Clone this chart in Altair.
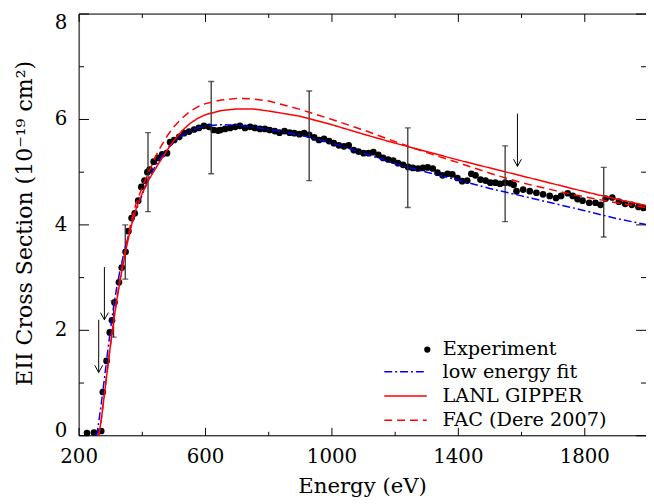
import altair as alt
import pandas as pd

# ---------------- data ----------------
EXP_NAME = "Experiment"
MODELS = ["low energy fit", "LANL GIPPER", "FAC (Dere 2007)"]

exp_E = [225, 247, 270, 275, 287, 297, 304, 312, 326, 335, 347, 356, 366, 376, 387,
         397, 407, 416, 423, 436, 449, 463, 478, 488, 501, 517, 532, 548, 564, 579,
         595, 611, 626, 640, 647, 662, 678, 694, 709, 725, 741, 756, 772, 788, 803,
         819, 834, 850, 866, 881, 897, 912, 928, 944, 959, 975, 991, 1006, 1022, 1038,
         1053, 1069, 1084, 1100, 1116, 1131, 1147, 1162, 1178, 1194, 1209, 1225, 1241,
         1256, 1272, 1288, 1303, 1319, 1334, 1350, 1366, 1381, 1397, 1412, 1428, 1441,
         1454, 1470, 1486, 1501, 1517, 1532, 1548, 1564, 1575, 1584, 1605, 1626, 1647,
         1668, 1689, 1709, 1725, 1746, 1762, 1777, 1793, 1814, 1834, 1850, 1866, 1887,
         1908, 1928, 1949, 1970, 1986]
exp_val = [0.05, 0.06, 0.09, 0.83, 1.42, 1.96, 2.19, 2.53, 2.91, 3.19, 3.49, 3.88, 4.13, 4.22, 4.46,
           4.72, 4.84, 5.00, 5.05, 5.20, 5.27, 5.34, 5.36, 5.57, 5.61, 5.67, 5.74, 5.77, 5.81, 5.84,
           5.88, 5.86, 5.80, 5.79, 5.80, 5.82, 5.84, 5.86, 5.88, 5.84, 5.86, 5.84, 5.82, 5.82, 5.80,
           5.78, 5.75, 5.78, 5.75, 5.74, 5.72, 5.74, 5.71, 5.66, 5.61, 5.63, 5.59, 5.55, 5.51, 5.49,
           5.51, 5.42, 5.39, 5.36, 5.36, 5.38, 5.33, 5.27, 5.24, 5.22, 5.17, 5.14, 5.10,
           5.08, 5.07, 5.08, 5.09, 5.07, 4.99, 4.94, 4.97, 4.96, 4.89, 4.83, 4.84, 4.97,
           4.94, 4.86, 4.84, 4.80, 4.80, 4.78, 4.80, 4.79, 4.76, 4.64, 4.67, 4.64, 4.61,
           4.58, 4.55, 4.51, 4.55, 4.60, 4.55, 4.49, 4.46, 4.42, 4.42, 4.38, 4.50, 4.52,
           4.44, 4.40, 4.38, 4.34, 4.32]

fit_E = [256, 270, 280, 290, 300, 310, 320, 330, 345, 360, 380, 400, 420, 440, 460, 480,
         500, 525, 550, 575, 600, 650, 700, 750, 800, 850, 900, 950, 1000, 1100, 1200,
         1300, 1400, 1500, 1600, 1700, 1800, 1900, 2000]
fit_val = [0.0, 0.6, 1.08, 1.58, 2.05, 2.48, 2.85, 3.15, 3.55, 3.9, 4.27, 4.58, 4.87, 5.1, 5.3, 5.45,
           5.57, 5.69, 5.78, 5.84, 5.88, 5.9, 5.89, 5.86, 5.81, 5.76, 5.7, 5.63, 5.55, 5.36, 5.16,
           5.0, 4.85, 4.69, 4.55, 4.41, 4.27, 4.12, 4.0]

gip_E = [262, 270, 280, 290, 300, 310, 320, 335, 350, 365, 380, 400, 420, 450, 480, 500,
         525, 550, 575, 600, 650, 700, 750, 800, 900, 1000, 1100, 1200, 1300, 1400, 1500,
         1600, 1700, 1800, 1900, 2000]
gip_val = [0.0, 0.3, 0.78, 1.28, 1.75, 2.2, 2.6, 3.12, 3.58, 3.98, 4.3, 4.6, 4.85, 5.15, 5.43, 5.6,
           5.78, 5.92, 6.02, 6.09, 6.17, 6.2, 6.2, 6.16, 6.06, 5.9, 5.72, 5.55, 5.39, 5.23, 5.08,
           4.93, 4.78, 4.63, 4.49, 4.36]

fac_E = [262, 270, 280, 290, 300, 310, 320, 335, 350, 365, 380, 400, 420, 450, 480, 500,
         525, 550, 575, 600, 650, 700, 750, 800, 900, 1000, 1100, 1200, 1300, 1400, 1500,
         1600, 1700, 1800, 1900, 2000]
fac_val = [0.0, 0.3, 0.78, 1.28, 1.76, 2.22, 2.63, 3.17, 3.65, 4.07, 4.4, 4.72, 5.0, 5.4, 5.7, 5.86,
           6.02, 6.15, 6.24, 6.3, 6.37, 6.4, 6.39, 6.35, 6.19, 6.0, 5.8, 5.58, 5.37, 5.18, 4.98,
           4.8, 4.66, 4.53, 4.42, 4.32]

err_E = [309, 346, 418, 618, 928, 1240, 1548, 1860]
err_lo = [1.87, 2.97, 4.25, 4.97, 4.84, 4.33, 4.06, 3.77]
err_hi = [2.56, 4.00, 5.75, 6.72, 6.54, 5.84, 5.50, 5.09]

arrow_E = [280, 262, 1587]
arrow_top = [3.2, 2.2, 6.11]
arrow_tip = [2.2, 1.2, 5.11]

x_major = [200, 600, 1000, 1400, 1800]
x_major_labels = ["200", "600", "1000", "1400", "1800"]
x_minor = [400, 800, 1200, 1600]
y_major = [0, 2, 4, 6, 8]
y_major_labels = ["0", "2", "4", "6", "8"]
y_minor = [1, 3, 5, 7]
x_title = "Energy (eV)"
y_title = "EII Cross Section (10\u207b\u00b9\u2079 cm\u00b2)"

# ---------------- tables ----------------
df_exp = pd.DataFrame({"E": exp_E, "val": exp_val, "series": EXP_NAME})
df_mod = pd.concat([
    pd.DataFrame({"E": fit_E, "val": fit_val, "series": MODELS[0]}),
    pd.DataFrame({"E": gip_E, "val": gip_val, "series": MODELS[1]}),
    pd.DataFrame({"E": fac_E, "val": fac_val, "series": MODELS[2]}),
], ignore_index=True)
df_err = pd.DataFrame({"E": err_E, "lo": err_lo, "hi": err_hi})
df_arr = pd.DataFrame({"E": arrow_E, "top": arrow_top, "tip": arrow_tip})
df_xlab = pd.DataFrame({"E": x_major, "label": x_major_labels})
df_ylab = pd.DataFrame({"val": y_major, "label": y_major_labels})
df_one = pd.DataFrame({"xt": [x_title], "yt": [y_title]})

W, H = 574, 427
FONT = "DejaVu Serif"
XMAX = 200 + W / 0.32
xs = alt.Scale(domain=[200, XMAX], nice=False, zero=False)
ys = alt.Scale(domain=[0, 8], nice=False, zero=False)

X = lambda f="E": alt.X(f"{f}:Q", scale=xs, axis=None)
Y = lambda f="val": alt.Y(f"{f}:Q", scale=ys, axis=None)

# ---------------- frame and inward ticks ----------------
frame = [
    alt.Chart(df_one).mark_rule(color="black", strokeWidth=1).encode(
        x=alt.value(0), x2=alt.value(W + 2), y=alt.value(H)),
    alt.Chart(df_one).mark_rule(color="black", strokeWidth=1).encode(
        x=alt.value(0), x2=alt.value(W + 2), y=alt.value(0)),
    alt.Chart(df_one).mark_rule(color="black", strokeWidth=1).encode(
        x=alt.value(0), y=alt.value(0), y2=alt.value(H)),
]


def xticks(values, top, length):
    df = pd.DataFrame({"E": values})
    y0, y1 = (0, length) if top else (H - length, H)
    return alt.Chart(df).mark_rule(color="black", strokeWidth=1).encode(
        x=X(), y=alt.value(y0), y2=alt.value(y1))


def yticks(values, right, length):
    df = pd.DataFrame({"val": values})
    x0, x1 = (W - length, W) if right else (0, length)
    return alt.Chart(df).mark_rule(color="black", strokeWidth=1).encode(
        y=Y(), x=alt.value(x0), x2=alt.value(x1))


ticks = [xticks(x_major, False, 8), xticks(x_minor, False, 4),
         xticks(x_major, True, 8), xticks(x_minor, True, 4),
         yticks(y_major, False, 10), yticks(y_minor, False, 5),
         yticks(y_major, True, 10), yticks(y_minor, True, 5)]

# ---------------- tick labels and titles (text) ----------------
xlab = alt.Chart(df_xlab).mark_text(font=FONT, fontSize=20, color="black",
                                    baseline="top", align="center").encode(
    x=X(), y=alt.value(H + 12), text="label:N")


def ylab_layer(filt, dy):
    return alt.Chart(df_ylab).transform_filter(filt).mark_text(
        font=FONT, fontSize=20, color="black", baseline="middle", align="right", dy=dy
    ).encode(y=Y(), x=alt.value(-12), text="label:N")


ylabs = [ylab_layer("datum.val > 0 && datum.val < 8", 0),
         ylab_layer("datum.val == 8", 9),
         ylab_layer("datum.val == 0", -5)]

xtitle = alt.Chart(df_one).mark_text(font=FONT, fontSize=21.5, fontWeight="normal",
                                     color="black", baseline="alphabetic",
                                     align="center").encode(
    x=alt.value(W / 2), y=alt.value(H + 58), text="xt:N")
ytitle = alt.Chart(df_one).mark_text(font=FONT, fontSize=22.3, fontWeight="normal",
                                     color="black", baseline="alphabetic", align="center",
                                     angle=270).encode(
    x=alt.value(-48), y=alt.value(212), text="yt:N")

# ---------------- data marks ----------------
pts = alt.Chart(df_exp).mark_point(filled=True, size=46, color="black", opacity=1,
                                   strokeWidth=0, clip=True).encode(
    x=X(), y=Y(),
    shape=alt.Shape("series:N", scale=alt.Scale(domain=[EXP_NAME], range=["circle"]),
                    legend=alt.Legend(orient="none", legendX=342.8, legendY=329.7, title=None,
                                      symbolSize=40, clipHeight=20, padding=0,
                                      symbolFillColor="black", symbolStrokeColor="black",
                                      symbolStrokeWidth=0,
                                      labelFont=FONT, labelFontSize=19.5, labelColor="black",
                                      labelOffset=6, labelLimit=400)),
)

err = alt.Chart(df_err).mark_rule(color="#333333", strokeWidth=1.3, clip=True).encode(
    x=X(), y=Y("lo"), y2="hi:Q")
cap_hi = alt.Chart(df_err).mark_tick(color="#222222", orient="horizontal", size=6,
                                     thickness=1.3, clip=True).encode(x=X(), y=Y("hi"))
cap_lo = alt.Chart(df_err).mark_tick(color="#222222", orient="horizontal", size=6,
                                     thickness=1.3, clip=True).encode(x=X(), y=Y("lo"))

model_legend = alt.Legend(orient="none", legendX=308, legendY=352.3, title=None,
                          symbolSize=1849, symbolType="stroke", symbolStrokeWidth=1.5,
                          clipHeight=20, rowPadding=4.5, padding=0,
                          labelFont=FONT, labelFontSize=19.5, labelColor="black",
                          labelOffset=15, labelLimit=400)

lines = alt.Chart(df_mod).mark_line(strokeWidth=1.5, clip=True).encode(
    x=X(), y=Y(),
    color=alt.Color("series:N", scale=alt.Scale(domain=MODELS, range=["blue", "red", "red"]),
                    legend=model_legend),
    strokeDash=alt.StrokeDash("series:N",
                              scale=alt.Scale(domain=MODELS,
                                              range=[[8, 3, 2, 3], [1, 0], [8, 5]]),
                              legend=model_legend),
    order=alt.Order("E:Q"),
)

arr_line = alt.Chart(df_arr).mark_rule(color="black", strokeWidth=1).encode(
    x=X(), y=Y("top"), y2="tip:Q")
arr_head = alt.Chart(df_arr).mark_point(shape="M-0.55,-1L0,0L0.55,-1", filled=False,
                                        size=210, strokeWidth=1, color="black",
                                        opacity=1).encode(x=X(), y=Y("tip"))

chart = alt.layer(*frame, *ticks, xlab, *ylabs, xtitle, ytitle,
                  pts, err, cap_hi, cap_lo, lines, arr_line, arr_head).properties(
    width=W, height=H,
    autosize=alt.AutoSizeParams(type="none"),
    padding={"left": 72, "top": 3, "right": 0, "bottom": 66},
).configure_view(stroke=None).configure(background="white")

chart.save("out.html", embed_options={"renderer": "svg", "actions": False})
